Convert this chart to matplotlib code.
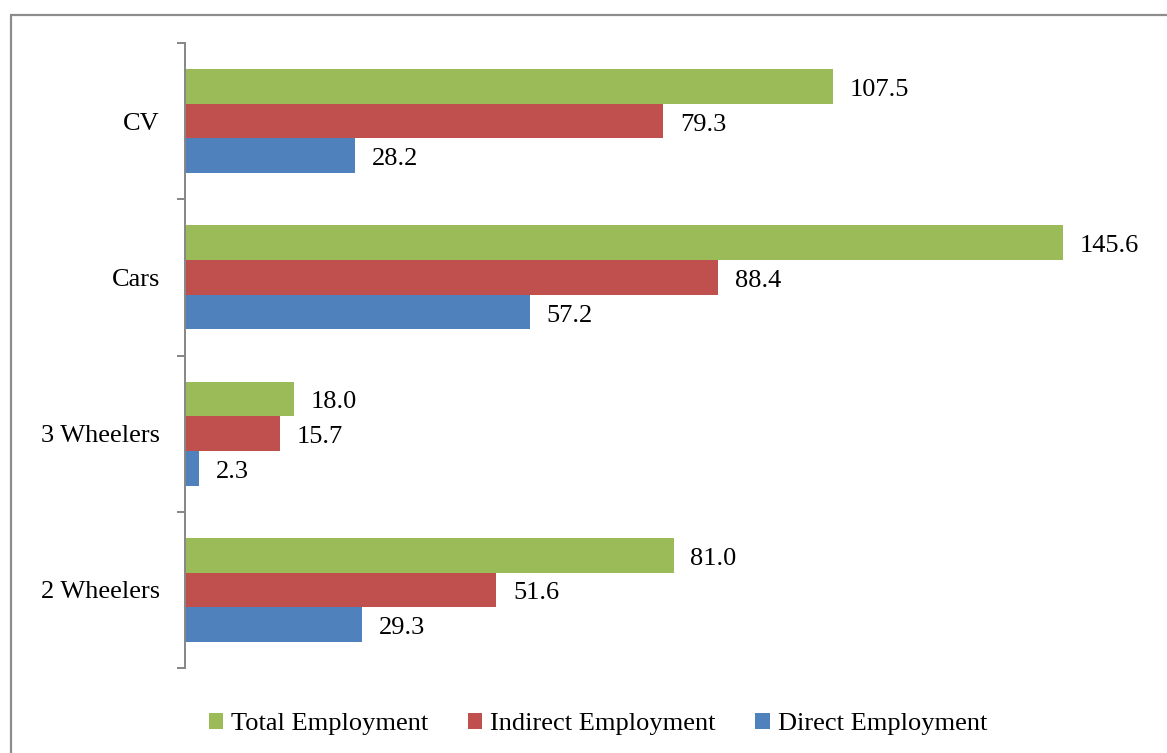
import matplotlib
matplotlib.use("Agg")
import matplotlib.pyplot as plt
from matplotlib.patches import Rectangle, Patch
import numpy as np

plt.rcParams['font.family'] = ['Liberation Serif', 'DejaVu Serif']

categories = ["2 Wheelers", "3 Wheelers", "Cars", "CV"]
total_employment = [81.0, 18.0, 145.6, 107.5]
indirect_employment = [51.6, 15.7, 88.4, 79.3]
direct_employment = [29.3, 2.3, 57.2, 28.2]

series_names = ["Total Employment", "Indirect Employment", "Direct Employment"]
series_colors = ["#9BBB59", "#C0504D", "#4F81BD"]

W, H = 1167, 753
fig = plt.figure(figsize=(W / 100, H / 100), dpi=100)

# outer frame of the chart area
fig.add_artist(Rectangle((11 / W, -0.1), 1.2, 1.1 - 15 / H,
                         transform=fig.transFigure, fill=False,
                         edgecolor="#8C8C8C", linewidth=1.6))

ax = fig.add_axes([185 / W, 1 - 668 / H, (1150 - 185) / W, (668 - 43) / H])

y = np.arange(len(categories))
h = 1 / 4.5
series = [total_employment, indirect_employment, direct_employment]
offsets = [h, 0, -h]

for vals, off, col in zip(series, offsets, series_colors):
    bars = ax.barh(y + off, vals, height=h, color=col, edgecolor="none")
    for b, v in zip(bars, vals):
        ax.annotate(f"{v:.1f}", xy=(b.get_width(), b.get_y() + b.get_height() / 2),
                    xytext=(12, -2.5), textcoords="offset points",
                    ha="left", va="center", fontsize=19, color="black")

ax.set_xlim(0, 160)
ax.set_ylim(-0.5, len(categories) - 0.5)

ax.set_yticks(y)
ax.set_yticklabels(categories, fontsize=19)
ax.set_yticks(np.arange(-0.5, len(categories)), minor=True)
ax.tick_params(axis="y", which="major", length=0, pad=18)
ax.tick_params(axis="y", which="minor", length=6, width=1.4, color="#868686",
               direction="out")
ax.set_xticks([])

for side in ["top", "right", "bottom"]:
    ax.spines[side].set_visible(False)
ax.spines["left"].set_color("#868686")
ax.spines["left"].set_linewidth(1.4)

handles = [Patch(facecolor=c, edgecolor="none") for c in series_colors]
fig.legend(handles, series_names, loc="center",
           bbox_to_anchor=(598 / W, 1 - 724 / H), ncol=3, frameon=False,
           fontsize=19, handlelength=0.55, handleheight=0.55,
           handletextpad=0.3, columnspacing=1.5)

fig.savefig("out.png", dpi=100)
